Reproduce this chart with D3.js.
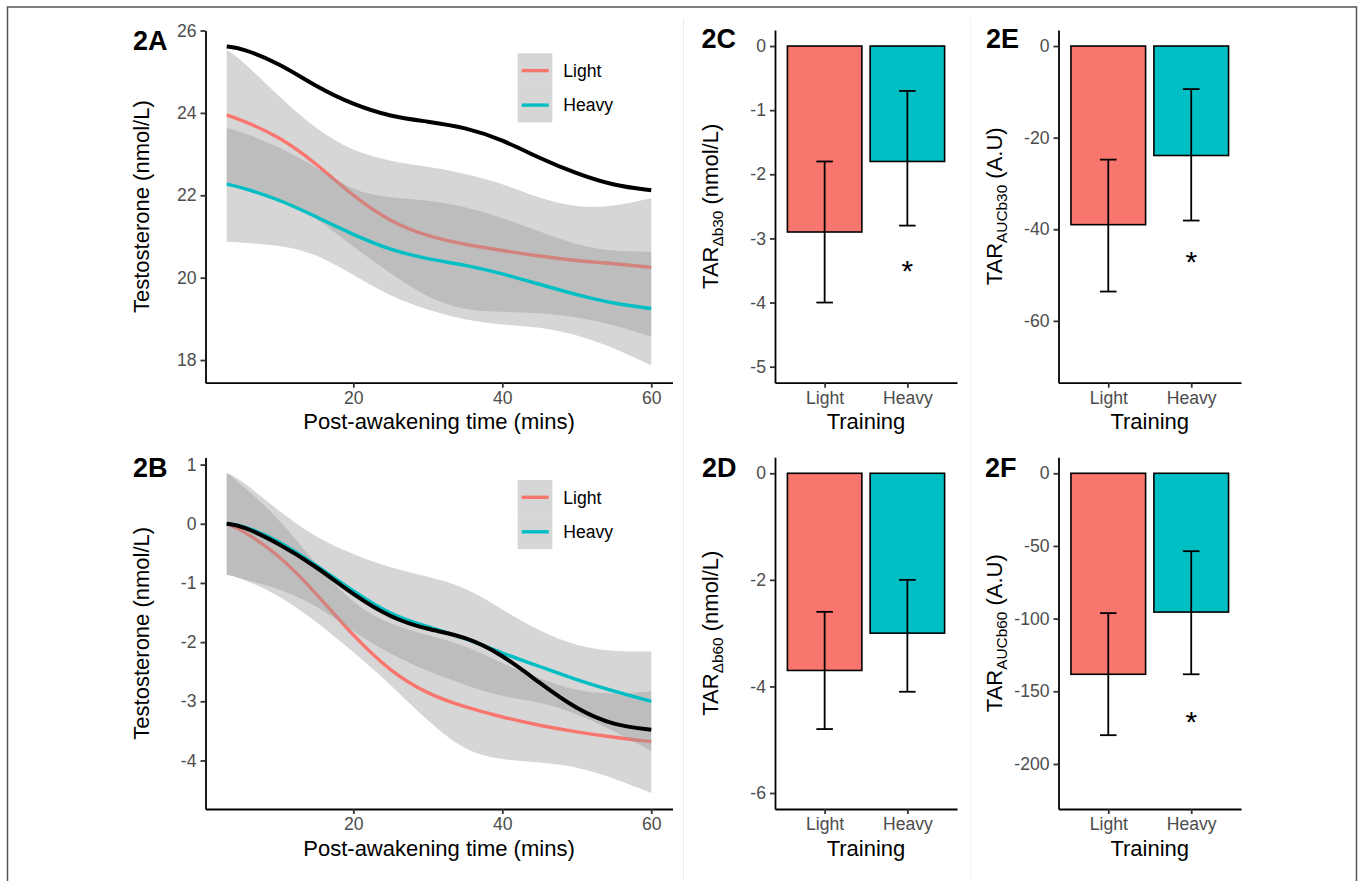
<!DOCTYPE html>
<html>
<head>
<meta charset="utf-8">
<script src="https://cdn.jsdelivr.net/npm/d3@7"></script>
<style>
  body { margin: 0; background: #fff; }
  svg text { font-family: "Liberation Sans", Arial, sans-serif; }
</style>
</head>
<body>
<div id="figure"></div>
<script>
// ---- data ----
const times = [3, 5, 10, 15, 20, 25, 30, 35, 40, 45, 50, 55, 60];

// 2A: absolute testosterone (nmol/L)
const absLight   = [23.95, 23.83, 23.43, 22.78, 21.97, 21.35, 21.00, 20.80, 20.66, 20.52, 20.41, 20.34, 20.25];
const absLightLo = [22.27, 22.19, 21.90, 21.48, 20.74, 20.10, 19.50, 19.20, 19.17, 19.15, 19.05, 18.85, 18.57];
const absLightHi = [25.53, 25.29, 24.40, 23.59, 23.06, 22.82, 22.70, 22.53, 22.29, 21.92, 21.70, 21.72, 21.93];
const absHeavy   = [22.27, 22.19, 21.90, 21.48, 21.04, 20.67, 20.45, 20.31, 20.10, 19.84, 19.58, 19.37, 19.25];
const absHeavyLo = [20.87, 20.85, 20.79, 20.59, 20.06, 19.54, 19.21, 18.97, 18.85, 18.81, 18.62, 18.30, 17.87];
const absHeavyHi = [23.64, 23.54, 23.18, 22.69, 22.09, 21.93, 21.89, 21.73, 21.45, 21.12, 20.79, 20.63, 20.63];
const absAll     = [25.61, 25.57, 25.21, 24.64, 24.20, 23.91, 23.79, 23.65, 23.35, 22.90, 22.52, 22.23, 22.12];

// 2B: change from awakening (nmol/L)
const chgLight   = [0, -0.10, -0.52, -1.17, -1.90, -2.50, -2.88, -3.10, -3.27, -3.41, -3.52, -3.61, -3.68];
const chgLightLo = [-0.86, -0.92, -1.20, -1.65, -2.16, -2.72, -3.34, -3.85, -3.99, -4.03, -4.10, -4.30, -4.55];
const chgLightHi = [0.86, 0.66, 0.10, -0.69, -1.37, -1.71, -1.88, -2.05, -2.36, -2.62, -2.83, -2.89, -2.83];
const chgHeavy   = [0, -0.02, -0.28, -0.70, -1.14, -1.54, -1.74, -1.93, -2.19, -2.41, -2.64, -2.83, -3.00];
const chgHeavyLo = [-0.86, -0.93, -1.09, -1.37, -1.82, -2.21, -2.50, -2.72, -2.93, -3.00, -3.21, -3.50, -3.84];
const chgHeavyHi = [0.86, 0.74, 0.21, -0.24, -0.52, -0.75, -0.89, -1.06, -1.45, -1.82, -2.07, -2.16, -2.16];
const chgAll     = [0, -0.03, -0.33, -0.72, -1.20, -1.59, -1.79, -1.90, -2.21, -2.69, -3.14, -3.41, -3.48];

// bar panels (Light, Heavy)
const groups = ["Light", "Heavy"];
const d30 = [-2.9, -1.8],     d30Lo = [-4.0, -2.8],     d30Hi = [-1.8, -0.7];
const auc30 = [-39.0, -23.9], auc30Lo = [-53.6, -38.1], auc30Hi = [-24.8, -9.4];
const d60 = [-3.7, -3.0],     d60Lo = [-4.8, -4.1],     d60Hi = [-2.6, -2.0];
const auc60 = [-138.3, -95.5], auc60Lo = [-180.2, -138.3], auc60Hi = [-96.2, -53.6];

const xTicks = [20, 40, 60];
const ticksA = [18, 20, 22, 24, 26];
const ticksB = [-4, -3, -2, -1, 0, 1];
const ticksC = [-5, -4, -3, -2, -1, 0];
const ticksD = [-6, -4, -2, 0];
const ticksE = [-60, -40, -20, 0];
const ticksF = [-200, -150, -100, -50, 0];

// ---- styling ----
const FONT = '"Liberation Sans", Arial, sans-serif';
const colLight = "#F8766D", colHeavy = "#00BFC4";
const W = 1363, H = 881;
// plain hyphen minus like the original, not d3's unicode minus
const fmt = d => String(d);

var svg = d3.select("#figure")
  .append("svg")
  .attr("width", W)
  .attr("height", H)
  .style("display", "block");

svg.append("rect").attr("width", W).attr("height", H).attr("fill", "#fff");

// faint panel separators + outer frame
svg.append("line").attr("x1", 683.5).attr("x2", 683.5).attr("y1", 18).attr("y2", H)
  .attr("stroke", "#ececec").attr("stroke-width", 1);
svg.append("line").attr("x1", 970.5).attr("x2", 970.5).attr("y1", 18).attr("y2", H)
  .attr("stroke", "#f4f4f4").attr("stroke-width", 1);
svg.append("path")
  .attr("d", `M7.5,${H} V7 H1356.5 V${H}`)
  .attr("fill", "none").attr("stroke", "#555").attr("stroke-width", 1.5);

function styleAxis(g) {
  g.attr("font-size", null).attr("font-family", null);
  g.select(".domain").attr("stroke", "#000").attr("stroke-width", 1.8);
  g.selectAll(".tick line").attr("stroke", "#333").attr("stroke-width", 1.8);
  g.selectAll(".tick text").attr("fill", "#4d4d4d")
    .style("font-size", "17.6px").style("font-family", FONT);
}

function panelTag(label, x, y) {
  svg.append("text").attr("x", x).attr("y", y)
    .attr("font-weight", "bold").attr("font-size", "27px").attr("fill", "#000")
    .text(label);
}

// y title, optionally "TAR" + subscript
function yTitle(cx, cy, main, sub, rest) {
  var t = svg.append("text")
    .attr("transform", `translate(${cx},${cy}) rotate(-90)`)
    .attr("text-anchor", "middle").attr("dy", "0.36em")
    .attr("font-size", "22px").attr("fill", "#000");
  t.append("tspan").text(main);
  if (sub) {
    t.append("tspan").attr("font-size", "15.4px").attr("dy", 5).text(sub);
    t.append("tspan").attr("dy", -5).text(rest);
  }
}

function xTitle(cx, y, label) {
  svg.append("text").attr("x", cx).attr("y", y)
    .attr("text-anchor", "middle").attr("font-size", "22px").attr("fill", "#000")
    .text(label);
}

// ---- line (smooth) panels ----
function linePanel(cfg) {
  var x = d3.scaleLinear().domain([0.15, 62.85]).range([205.5, 672.5]);
  var y = d3.scaleLinear().domain(cfg.yDomain).range([cfg.bottom, cfg.top]);

  var area = d3.area().curve(d3.curveBasis)
    .x((d, i) => x(times[i]));
  var line = d3.line().curve(d3.curveBasis)
    .x((d, i) => x(times[i]))
    .y(d => y(d));

  var g = svg.append("g");
  // each group: ribbon then line (so the heavy ribbon dims the light line)
  cfg.series.forEach(s => {
    g.append("path")
      .datum(s.lo)
      .attr("d", area.y0(d => y(d)).y1((d, i) => y(s.hi[i])))
      .attr("fill", "#999").attr("fill-opacity", 0.4);
    g.append("path")
      .datum(s.mean)
      .attr("d", line)
      .attr("fill", "none").attr("stroke", s.color).attr("stroke-width", 3.4);
  });
  g.append("path")
    .datum(cfg.all)
    .attr("d", line)
    .attr("fill", "none").attr("stroke", "#000").attr("stroke-width", 4);

  svg.append("g")
    .attr("transform", `translate(0,${cfg.bottom})`)
    .call(d3.axisBottom(x).tickValues(xTicks).tickFormat(fmt).tickSize(5).tickSizeOuter(0).tickPadding(4))
    .call(styleAxis);
  svg.append("g")
    .attr("transform", "translate(205.5,0)")
    .call(d3.axisLeft(y).tickValues(cfg.ticks).tickFormat(fmt).tickSize(5).tickSizeOuter(0).tickPadding(4))
    .call(styleAxis);

  // legend
  var lg = svg.append("g").attr("transform", `translate(517.7,${cfg.legendTop})`);
  cfg.series.forEach((s, i) => {
    lg.append("rect").attr("x", 0).attr("y", i * 34.5).attr("width", 34.6).attr("height", 34.5)
      .attr("fill", "#999").attr("fill-opacity", 0.4);
    lg.append("line").attr("x1", 4).attr("x2", 31).attr("y1", i * 34.5 + 17.3).attr("y2", i * 34.5 + 17.3)
      .attr("stroke", s.color).attr("stroke-width", 3.4);
    lg.append("text").attr("x", 45.6).attr("y", i * 34.5 + 17.3).attr("dy", "0.36em")
      .attr("font-size", "17.6px").attr("fill", "#000").text(s.name);
  });

  panelTag(cfg.tag, 133, cfg.tagY);
  yTitle(141, (cfg.top + cfg.bottom) / 2, "Testosterone (nmol/L)");
  xTitle(439, cfg.bottom + 46.5, "Post-awakening time (mins)");
}

linePanel({
  tag: "2A", tagY: 50, top: 30.5, bottom: 382.7, yDomain: [17.45, 26], ticks: ticksA, legendTop: 53.3,
  series: [
    { name: "Light", color: colLight, mean: absLight, lo: absLightLo, hi: absLightHi },
    { name: "Heavy", color: colHeavy, mean: absHeavy, lo: absHeavyLo, hi: absHeavyHi }
  ],
  all: absAll
});

linePanel({
  tag: "2B", tagY: 476.7, top: 457.5, bottom: 809, yDomain: [-4.82, 1.12], ticks: ticksB, legendTop: 480,
  series: [
    { name: "Light", color: colLight, mean: chgLight, lo: chgLightLo, hi: chgLightHi },
    { name: "Heavy", color: colHeavy, mean: chgHeavy, lo: chgHeavyLo, hi: chgHeavyHi }
  ],
  all: chgAll
});

// ---- bar panels ----
function barPanel(cfg) {
  var x = d3.scalePoint().domain(groups).range(cfg.xRange).padding(0.6);
  var step = x.step();
  var y = d3.scaleLinear().domain(cfg.yDomain).range([cfg.bottom, cfg.top]);
  var rows = groups.map((k, i) => ({ key: k, v: cfg.mean[i], lo: cfg.lo[i], hi: cfg.hi[i] }));
  var cols = [colLight, colHeavy];

  var g = svg.append("g");
  g.selectAll("rect.bar")
    .data(rows)
    .enter().append("rect")
    .attr("class", "bar")
    .attr("x", d => x(d.key) - 0.45 * step)
    .attr("width", 0.9 * step)
    .attr("y", y(0))
    .attr("height", d => y(d.v) - y(0))
    .attr("fill", (d, i) => cols[i])
    .attr("stroke", "#000").attr("stroke-width", 1.6);

  var eb = g.selectAll("g.err").data(rows).enter().append("g")
    .attr("stroke", "#000").attr("stroke-width", 1.8);
  eb.append("line").attr("x1", d => x(d.key)).attr("x2", d => x(d.key))
    .attr("y1", d => y(d.lo)).attr("y2", d => y(d.hi));
  eb.append("line").attr("x1", d => x(d.key) - 0.1 * step).attr("x2", d => x(d.key) + 0.1 * step)
    .attr("y1", d => y(d.lo)).attr("y2", d => y(d.lo));
  eb.append("line").attr("x1", d => x(d.key) - 0.1 * step).attr("x2", d => x(d.key) + 0.1 * step)
    .attr("y1", d => y(d.hi)).attr("y2", d => y(d.hi));

  if (cfg.star !== undefined) {
    g.append("text").attr("x", x("Heavy")).attr("y", y(cfg.star)).attr("dy", "0.57em")
      .attr("text-anchor", "middle").attr("font-size", "30px").attr("fill", "#000").text("*");
  }

  svg.append("g")
    .attr("transform", `translate(0,${cfg.bottom})`)
    .call(d3.axisBottom(x).tickSize(5).tickSizeOuter(0).tickPadding(4))
    .call(styleAxis);
  svg.append("g")
    .attr("transform", `translate(${cfg.xRange[0]},0)`)
    .call(d3.axisLeft(y).tickValues(cfg.ticks).tickFormat(fmt).tickSize(5).tickSizeOuter(0).tickPadding(4))
    .call(styleAxis);

  panelTag(cfg.tag, cfg.tagX, cfg.tagY);
  yTitle(cfg.titleX, (cfg.top + cfg.bottom) / 2, "TAR", cfg.sub, cfg.unit);
  xTitle((cfg.xRange[0] + cfg.xRange[1]) / 2, cfg.bottom + 46.5, "Training");
}

barPanel({ tag: "2C", tagX: 701.5, tagY: 48.3, xRange: [775, 957], top: 30, bottom: 382.7,
  yDomain: [-5.25, 0.25], ticks: ticksC, mean: d30, lo: d30Lo, hi: d30Hi, star: -3.4,
  titleX: 710, sub: "\u0394b30", unit: " (nmol/L)" });
barPanel({ tag: "2E", tagX: 986, tagY: 48.3, xRange: [1058.5, 1241], top: 30, bottom: 382.7,
  yDomain: [-73.5, 3.5], ticks: ticksE, mean: auc30, lo: auc30Lo, hi: auc30Hi, star: -45.7,
  titleX: 994, sub: "AUCb30", unit: " (A.U)" });
barPanel({ tag: "2D", tagX: 702, tagY: 476.7, xRange: [775, 957], top: 457.3, bottom: 809,
  yDomain: [-6.3, 0.3], ticks: ticksD, mean: d60, lo: d60Lo, hi: d60Hi,
  titleX: 710, sub: "\u0394b60", unit: " (nmol/L)" });
barPanel({ tag: "2F", tagX: 985, tagY: 476.7, xRange: [1058.5, 1241], top: 457.3, bottom: 809,
  yDomain: [-231, 11], ticks: ticksF, mean: auc60, lo: auc60Lo, hi: auc60Hi, star: -166,
  titleX: 994, sub: "AUCb60", unit: " (A.U)" });
</script>
</body>
</html>
